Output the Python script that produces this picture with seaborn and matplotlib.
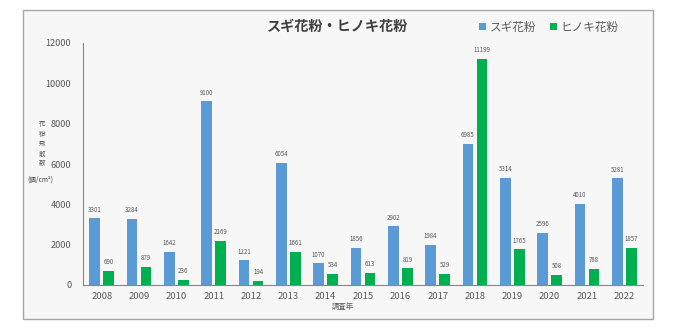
import matplotlib
matplotlib.use("Agg")
import matplotlib.pyplot as plt
import seaborn as sns
import pandas as pd
from matplotlib.patches import Rectangle, Patch

years = ["2008", "2009", "2010", "2011", "2012", "2013", "2014", "2015",
         "2016", "2017", "2018", "2019", "2020", "2021", "2022"]
sugi = [3301, 3284, 1642, 9100, 1221, 6054, 1070, 1856, 2902, 1984, 6985, 5314, 2596, 4010, 5281]
hinoki = [690, 879, 236, 2169, 194, 1661, 534, 613, 819, 529, 11199, 1765, 508, 788, 1857]
series = ["スギ花粉", "ヒノキ花粉"]
colors = ["#5B9BD5", "#00B050"]
yticks = [0, 2000, 4000, 6000, 8000, 10000, 12000]

df = pd.DataFrame({
    "year": years * 2,
    "value": sugi + hinoki,
    "series": [series[0]] * len(years) + [series[1]] * len(years),
})

sns.set_theme(style="white")
plt.rcParams["font.family"] = ["Noto Sans CJK JP", "DejaVu Sans"]

fig = plt.figure(figsize=(6.8, 3.34), dpi=100)
fig.patch.set_facecolor("white")
W, H = 680, 334
# outer chart frame
fig.patches.append(Rectangle((23 / W, 1 - 319 / H), (653 - 23) / W, (319 - 10) / H,
                             transform=fig.transFigure, facecolor="#f7f7f7",
                             edgecolor="#a6a6a6", linewidth=1.0, zorder=-10))

ax = fig.add_axes([83 / W, 1 - 285 / H, (643 - 83) / W, (285 - 43) / H])
ax.set_facecolor("none")
ax.set_zorder(5)

sns.barplot(data=df, x="year", y="value", hue="series", order=years,
            hue_order=series, palette=colors, width=0.76, gap=0.24,
            saturation=1, ax=ax, legend=False, edgecolor="none")

for cont in ax.containers:
    ax.bar_label(cont, labels=[f"{int(v)}" for v in cont.datavalues],
                 padding=3.5, fontsize=4.4, color="#595959")

ax.set_ylim(0, 12000)
ax.set_xlim(-0.5, len(years) - 0.5)
ax.set_yticks(yticks)
ax.set_yticklabels([str(t) for t in yticks], fontsize=6.6, color="#595959")
ax.set_xticks(range(len(years)))
ax.set_xticklabels(years, fontsize=6.8, color="#595959")
ax.set_xticks([i - 0.5 for i in range(len(years) + 1)], minor=True)
ax.tick_params(axis="x", which="major", length=0, pad=5)
ax.tick_params(axis="x", which="minor", length=3, color="#868686", width=0.8, direction="out")
ax.tick_params(axis="y", which="major", length=3, color="#868686", width=0.8, direction="out", pad=5.5)
ax.set_xlabel("")
ax.set_ylabel("")
for s in ["top", "right"]:
    ax.spines[s].set_visible(False)
for s in ["left", "bottom"]:
    ax.spines[s].set_color("#868686")
    ax.spines[s].set_linewidth(0.8)

fig.text(338 / W, 1 - 27 / H, "スギ花粉・ヒノキ花粉", ha="center", va="center",
         fontsize=10.2, fontweight="bold", color="#404040")
handles = [Patch(facecolor=c, edgecolor="none") for c in colors]
fig.legend(handles, series, loc="center", bbox_to_anchor=(549 / W, 1 - 27 / H),
           ncol=2, frameon=False, fontsize=8.4, handlelength=0.6, handleheight=0.6,
           handletextpad=0.3, columnspacing=1.2, labelcolor="#595959")
fig.text(42 / W, 1 - 144 / H, "花\n粉\n飛\n散\n数", ha="center", va="center",
         fontsize=4.7, color="#595959", linespacing=1.3)
fig.text(40 / W, 1 - 180 / H, "(個/cm²)", ha="center", va="center",
         fontsize=4.8, color="#404040")
fig.text(343 / W, 1 - 307 / H, "調査年", ha="center", va="center",
         fontsize=5.3, color="#595959")

fig.savefig("out.png", dpi=100)
